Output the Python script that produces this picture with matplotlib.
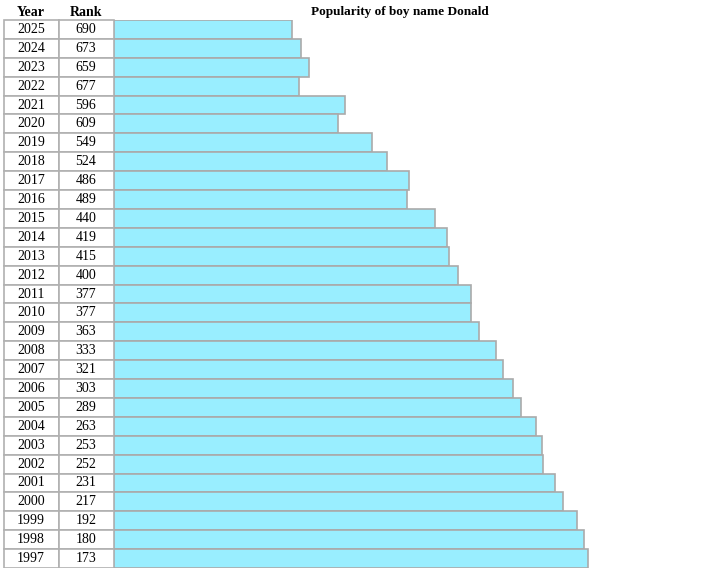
import matplotlib.pyplot as plt
from matplotlib.patches import Rectangle

years = [2025, 2024, 2023, 2022, 2021, 2020, 2019, 2018, 2017, 2016, 2015, 2014, 2013,
         2012, 2011, 2010, 2009, 2008, 2007, 2006, 2005, 2004, 2003, 2002, 2001, 2000,
         1999, 1998, 1997]
ranks = [690, 673, 659, 677, 596, 609, 549, 524, 486, 489, 440, 419, 415,
         400, 377, 377, 363, 333, 321, 303, 289, 263, 253, 252, 231, 217,
         192, 180, 173]
title = "Popularity of boy name Donald"
max_rank = 1000

plt.rcParams['font.family'] = ['Liberation Serif', 'DejaVu Serif']

W, H = 720, 568
fig = plt.figure(figsize=(W / 100, H / 100), dpi=100)

# pixel-coordinate axes for the table part
tab = fig.add_axes([0, 0, 1, 1])
tab.set_xlim(0, W)
tab.set_ylim(H, 0)
tab.axis('off')

top = 20
row_h = (H - top) / len(years)
grid = '#b0b0b0'
fs = 10

tab.text(31, 12, 'Year', ha='center', va='center', fontsize=fs, fontweight='bold')
tab.text(86, 12, 'Rank', ha='center', va='center', fontsize=fs, fontweight='bold')
tab.text(400, 12, title, ha='center', va='center', fontsize=9.5, fontweight='bold')

for i, (yr, rk) in enumerate(zip(years, ranks)):
    y0 = top + i * row_h
    tab.add_patch(Rectangle((4, y0), 55, row_h, facecolor='white', edgecolor=grid, lw=1.2))
    tab.add_patch(Rectangle((59, y0), 55, row_h, facecolor='white', edgecolor=grid, lw=1.2))
    tab.text(31, y0 + row_h / 2, str(yr), ha='center', va='center', fontsize=fs)
    tab.text(86, y0 + row_h / 2, str(rk), ha='center', va='center', fontsize=fs)

# bars: longer bar = better (lower) rank
ax = fig.add_axes([114 / W, 0, 573 / W, (H - top) / H])
ax.barh(range(len(years)), [max_rank - r for r in ranks], height=1.0, left=0,
        color='#99eeff', edgecolor='#aaaaaa', linewidth=1.2)
ax.set_xlim(0, max_rank)
ax.set_ylim(len(years) - 0.5, -0.5)
ax.axis('off')

fig.savefig('out.png', dpi=100)
